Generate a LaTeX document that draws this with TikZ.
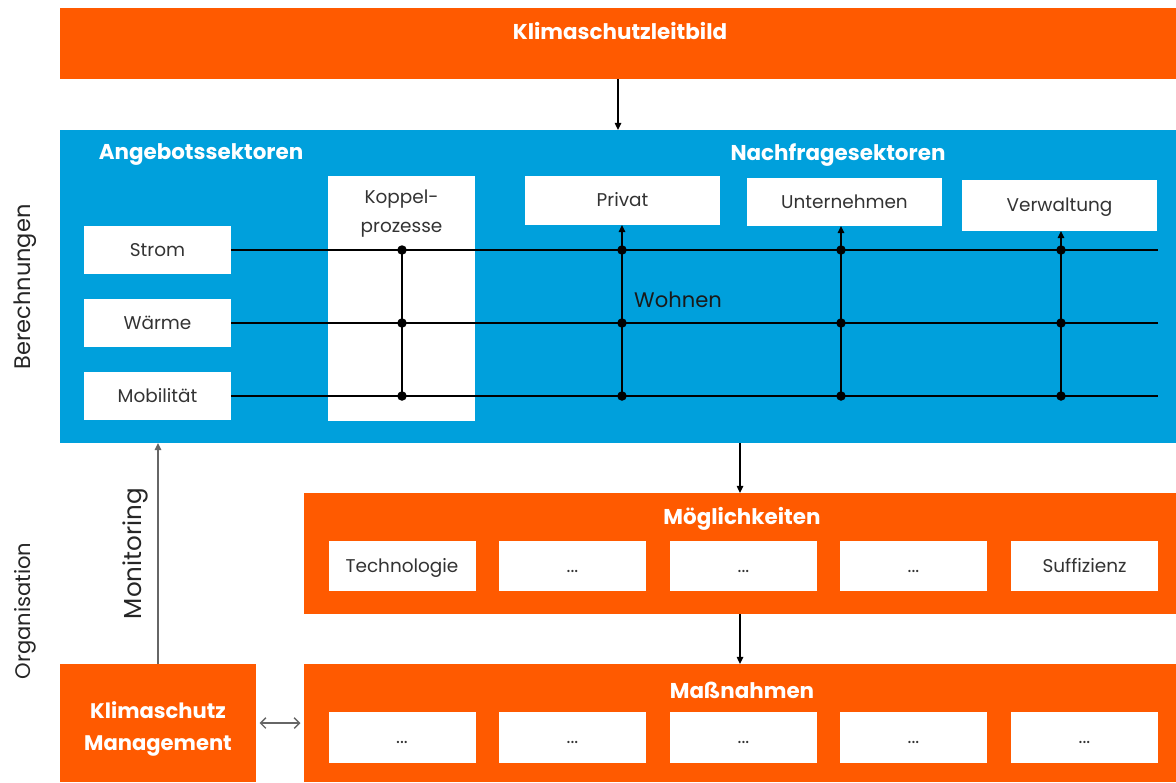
\documentclass[tikz,border=0pt]{standalone}
\usepackage{fontspec}
\setmainfont{Poppins}
\usetikzlibrary{arrows.meta}
\definecolor{orng}{HTML}{FF5A00}
\definecolor{blu}{HTML}{00A0DC}
\begin{document}
\begin{tikzpicture}[x=0.02cm,y=-0.02cm,
  wh/.style 2 args={minimum width=#1*0.02cm, minimum height=#2*0.02cm, inner sep=0pt, outer sep=0pt},
  panel/.style={fill=#1, draw=none},
  whitebox/.style={fill=white, draw=none, text=black!80, font=\fontsize{10.5}{12}\selectfont, text height=1.6ex, text depth=0.3ex},
  ttl/.style={text=white, font=\bfseries\fontsize{12.2}{14}\selectfont},
  side/.style={rotate=90, text=black!85},
  bus/.style={line width=1.1pt},
  dot/.style={circle, fill=black, inner sep=0pt, minimum size=0.19cm},
  tip/.style={-{Triangle[length=4pt,width=3.6pt]}},
]
\useasboundingbox (0,0) rectangle (1176,782);

% top: mission statement
\node[panel=orng, wh={1116}{71}] (leitbar) at (618,43.5) {};
\node[ttl] (leit) at (620,31) {Klimaschutzleitbild};

% calculation panel
\node[panel=blu, wh={1116}{313}] (calc) at (618,286.5) {};
\node[ttl] (angebot) at (201,155) {Angebotssektoren};
\node[ttl] (nachfrage) at (838,155) {Nachfragesektoren};

% supply sectors
\node[whitebox, wh={147}{48}] (strom) at (157.5,250) {Strom};
\node[whitebox, wh={147}{48}] (waerme) at (157.5,323) {Wärme};
\node[whitebox, wh={147}{48}] (mobil) at (157.5,396) {Mobilität};

% coupling processes
\node[whitebox, wh={147}{245}] (koppel) at (401.5,298.5) {};
\node[align=center, text=black!80, font=\fontsize{10.5}{16.5}\selectfont] (koppeltxt) at (401.5,214) {Koppel-\\prozesse};

% demand sectors
\node[whitebox, wh={195}{49}] (privat) at (622.5,200.5) {Privat};
\node[whitebox, wh={195}{48}] (untern) at (844.5,202) {Unternehmen};
\node[whitebox, wh={195}{51}] (verw) at (1059.5,205.5) {Verwaltung};

% bus lines
\coordinate (sEnd) at (1158,250);
\coordinate (wEnd) at (1158,323);
\coordinate (mEnd) at (1158,396);
\draw[bus] (strom.east) -- (sEnd);
\draw[bus] (waerme.east) -- (wEnd);
\draw[bus] (mobil.east) -- (mEnd);

% junctions
\foreach \n/\x in {k/402, p/622, u/841, v/1061}{
  \node[dot] (\n1) at (\x,250) {};
  \node[dot] (\n2) at (\x,323) {};
  \node[dot] (\n3) at (\x,396) {};
}
\draw[bus] (k1.center) -- (k3.center);
\draw[bus, tip] (p3.center) -- (p3 |- privat.south);
\draw[bus, tip] (u3.center) -- (u3 |- untern.south);
\draw[bus, tip] (v3.center) -- (v3 |- verw.south);
\node[anchor=west, text=black!90, font=\fontsize{12}{14}\selectfont] (wohnen) at (628,300) {Wohnen};

% options
\node[panel=orng, wh={872}{121}] (moegl) at (740,553.5) {};
\node[ttl] (moegltxt) at (742,519) {Möglichkeiten};
\node[whitebox, wh={147}{50}] (m1) at (402,566) {Technologie};
\node[whitebox, wh={147}{50}] (m2) at (572.5,566) {...};
\node[whitebox, wh={147}{50}] (m3) at (743.5,566) {...};
\node[whitebox, wh={147}{50}] (m4) at (913.5,566) {...};
\node[whitebox, wh={147}{50}] (m5) at (1084.5,566) {Suffizienz};

% measures
\node[panel=orng, wh={872}{118}] (mass) at (740,723) {};
\node[ttl] (masstxt) at (742,690) {Maßnahmen};
\node[whitebox, wh={147}{51}] (n1) at (402,737.5) {...};
\node[whitebox, wh={147}{51}] (n2) at (572.5,737.5) {...};
\node[whitebox, wh={147}{51}] (n3) at (743.5,737.5) {...};
\node[whitebox, wh={147}{51}] (n4) at (913.5,737.5) {...};
\node[whitebox, wh={147}{51}] (n5) at (1084.5,737.5) {...};

% climate protection management
\node[panel=orng, wh={196}{118}] (km) at (158,723) {};
\node[align=center, text=white, font=\bfseries\fontsize{12}{18}\selectfont] (kmtxt) at (158,729) {Klimaschutz\\Management};

% flow arrows
\draw[line width=0.8pt, tip] (leitbar) -- (calc);
\draw[line width=0.8pt, tip] (calc.south -| moegl.north) -- (moegl.north);
\draw[line width=0.8pt, tip] (moegl) -- (mass);
\draw[line width=0.8pt, black!60, {Straight Barb[length=3pt,width=6pt]}-{Straight Barb[length=3pt,width=6pt]}, shorten <=2pt, shorten >=2pt] (km) -- (mass);
\draw[line width=0.9pt, black!60, tip] (km.north) -- (km.north |- calc.south)
  node[midway, sloped, above=2pt, text=black!85, font=\fontsize{14}{16}\selectfont] (monit) {Monitoring};

% side labels
\node[side, font=\fontsize{12.8}{14}\selectfont] (berech) at (25,287) {Berechnungen};
\node[side, font=\fontsize{12}{14}\selectfont] (orga) at (25,611) {Organisation};
\end{tikzpicture}
\end{document}
